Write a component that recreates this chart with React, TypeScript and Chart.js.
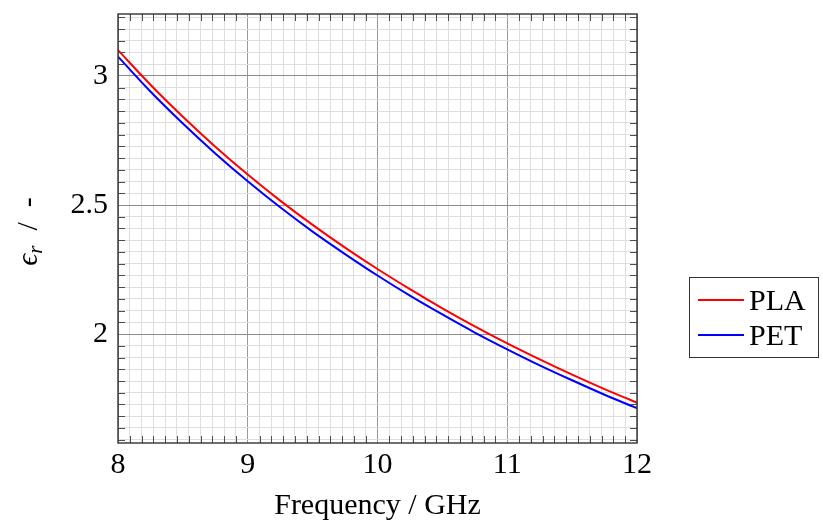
import React, { useEffect, useRef } from "react";
import { Chart, registerables } from "chart.js";

Chart.register(...registerables);

const frequencies = [8, 8.25, 8.5, 8.75, 9, 9.25, 9.5, 9.75, 10, 10.25, 10.5, 10.75, 11, 11.25, 11.5, 11.75, 12];
const plaValues = [3.10, 2.966, 2.842, 2.726, 2.618, 2.517, 2.423, 2.335, 2.252, 2.174, 2.100, 2.030, 1.964, 1.902, 1.843, 1.787, 1.734];
const petValues = [3.075, 2.940, 2.816, 2.700, 2.592, 2.491, 2.397, 2.310, 2.227, 2.149, 2.076, 2.006, 1.941, 1.879, 1.821, 1.765, 1.713];
const seriesNames = ["PLA", "PET"];
const seriesColors = ["#ff0000", "#0000ff"];
const xMajorTicks = [8, 9, 10, 11, 12];
const yMajorTicks = [2, 2.5, 3];
const X_MIN = 8;
const X_MAX = 12;
const Y_MIN = 1.578;
const Y_MAX = 3.24;
const MINOR_PER_MAJOR = 11;

const FONT = '"Liberation Serif", "DejaVu Serif", serif';

const isMajor = (v: number, majors: number[]) => majors.some((m) => Math.abs(m - v) < 1e-6);

function buildTicks(majors: number[], min: number, max: number) {
  const step = majors[1] - majors[0];
  const out: { value: number }[] = [];
  const start = majors[0] - step * 2;
  for (let k = 0; k < MINOR_PER_MAJOR * (majors.length + 4); k++) {
    const v = start + (k * step) / MINOR_PER_MAJOR;
    if (v >= min - 1e-9 && v <= max + 1e-9) out.push({ value: v });
  }
  return out;
}

const framePlugin = {
  id: "framePlugin",
  afterDatasetsDraw(chart: any) {
    const { ctx, chartArea } = chart;
    const { left, right, top, bottom } = chartArea;
    const xs = chart.scales.x;
    const ys = chart.scales.y;
    ctx.save();
    ctx.strokeStyle = "#4d4d4d";
    ctx.lineWidth = 1;
    const len = 7;
    xs.ticks.forEach((t: any) => {
      if (isMajor(t.value, xMajorTicks)) return;
      const px = Math.round(xs.getPixelForValue(t.value)) + 0.5;
      ctx.beginPath();
      ctx.moveTo(px, bottom);
      ctx.lineTo(px, bottom - len);
      ctx.moveTo(px, top);
      ctx.lineTo(px, top + len);
      ctx.stroke();
    });
    ys.ticks.forEach((t: any) => {
      if (isMajor(t.value, yMajorTicks)) return;
      const py = Math.round(ys.getPixelForValue(t.value)) + 0.5;
      ctx.beginPath();
      ctx.moveTo(left, py);
      ctx.lineTo(left + len, py);
      ctx.moveTo(right, py);
      ctx.lineTo(right - len, py);
      ctx.stroke();
    });
    ctx.strokeStyle = "#333333";
    ctx.lineWidth = 1.4;
    ctx.strokeRect(left, top, right - left, bottom - top);
    ctx.restore();
  },
  afterDraw(chart: any) {
    const { ctx, chartArea } = chart;
    ctx.save();
    ctx.fillStyle = "#000";
    ctx.font = `30px ${FONT}`;
    ctx.textAlign = "center";
    ctx.textBaseline = "alphabetic";
    ctx.fillText("Frequency / GHz", (chartArea.left + chartArea.right) / 2, 514);

    const cy = (chartArea.top + chartArea.bottom) / 2 + 3;
    ctx.translate(37, cy);
    ctx.rotate(-Math.PI / 2);
    ctx.textAlign = "left";
    const epsFont = `italic 30px ${FONT}`;
    const subFont = `italic 21px ${FONT}`;
    const restFont = `30px ${FONT}`;
    ctx.font = epsFont;
    const wEps = ctx.measureText("\u03F5").width;
    ctx.font = subFont;
    const wSub = ctx.measureText("r").width;
    ctx.font = restFont;
    const rest = "  /  -";
    const wRest = ctx.measureText(rest).width;
    const total = wEps + wSub + wRest;
    let x0 = -total / 2;
    ctx.font = epsFont;
    ctx.fillText("\u03F5", x0, 0);
    x0 += wEps;
    ctx.font = subFont;
    ctx.fillText("r", x0, 5);
    x0 += wSub;
    ctx.font = restFont;
    ctx.fillText(rest, x0, 0);
    ctx.restore();

    ctx.save();
    ctx.strokeStyle = "#333333";
    ctx.lineWidth = 1;
    ctx.strokeRect(689.5, 277.5, 129, 80);
    const rows = [300, 335];
    seriesNames.forEach((name, i) => {
      ctx.strokeStyle = seriesColors[i];
      ctx.lineWidth = 2;
      ctx.beginPath();
      ctx.moveTo(698, rows[i]);
      ctx.lineTo(744, rows[i]);
      ctx.stroke();
      ctx.fillStyle = "#000";
      ctx.font = `30px ${FONT}`;
      ctx.textAlign = "left";
      ctx.textBaseline = "alphabetic";
      ctx.fillText(name, 749, rows[i] + 10);
    });
    ctx.restore();
  },
};

export default function App() {
  const ref = useRef<HTMLCanvasElement | null>(null);
  useEffect(() => {
    if (!ref.current) return;
    const mkDs = (i: number, vals: number[]) => ({
      label: seriesNames[i],
      data: frequencies.map((f, j) => ({ x: f, y: vals[j] })),
      borderColor: seriesColors[i],
      borderWidth: 2,
      pointRadius: 0,
      tension: 0.4,
      cubicInterpolationMode: "monotone",
      fill: false,
    });
    const chart = new Chart(ref.current, {
      type: "line",
      data: { datasets: [mkDs(0, plaValues), mkDs(1, petValues)] },
      options: {
        animation: false,
        responsive: false,
        maintainAspectRatio: false,
        layout: { padding: { left: 0, top: 14, right: 186, bottom: 0 } },
        plugins: { legend: { display: false }, tooltip: { enabled: false } },
        scales: {
          x: {
            type: "linear",
            min: X_MIN,
            max: X_MAX,
            afterBuildTicks: (scale: any) => {
              scale.ticks = buildTicks(xMajorTicks, X_MIN, X_MAX);
            },
            afterFit: (scale: any) => {
              scale.height = 80;
              scale.paddingLeft = 0;
              scale.paddingRight = 0;
              scale.paddingTop = 0;
              scale.paddingBottom = 0;
            },
            ticks: {
              autoSkip: false,
              maxRotation: 0,
              padding: 4,
              color: "#000",
              font: { family: FONT, size: 30 },
              callback: (v: any) => (isMajor(Number(v), xMajorTicks) ? String(Math.round(Number(v))) : ""),
            },
            grid: {
              drawTicks: false,
              color: (c: any) => (c.tick && isMajor(c.tick.value, xMajorTicks) ? "#999999" : "#dedede"),
              lineWidth: 1,
            },
            border: { display: false },
          },
          y: {
            type: "linear",
            min: Y_MIN,
            max: Y_MAX,
            afterBuildTicks: (scale: any) => {
              scale.ticks = buildTicks(yMajorTicks, Y_MIN, Y_MAX);
            },
            afterFit: (scale: any) => {
              scale.width = 118;
              scale.paddingLeft = 0;
              scale.paddingRight = 0;
              scale.paddingTop = 0;
              scale.paddingBottom = 0;
            },
            ticks: {
              autoSkip: false,
              padding: 10,
              color: "#000",
              font: { family: FONT, size: 30 },
              callback: (v: any) => {
                const n = Number(v);
                if (!isMajor(n, yMajorTicks)) return "";
                const m = yMajorTicks.find((t) => Math.abs(t - n) < 1e-6) as number;
                return String(m);
              },
            },
            grid: {
              drawTicks: false,
              color: (c: any) => (c.tick && isMajor(c.tick.value, yMajorTicks) ? "#8c8c8c" : "#dedede"),
              lineWidth: 1,
            },
            border: { display: false },
          },
        },
      },
      plugins: [framePlugin],
    } as any);
    return () => chart.destroy();
  }, []);
  return (
    <div style={{ position: "fixed", left: 0, top: 0, width: 823, height: 523, background: "#fff" }}>
      <canvas ref={ref} width={823} height={523} style={{ width: 823, height: 523 }} />
    </div>
  );
}
